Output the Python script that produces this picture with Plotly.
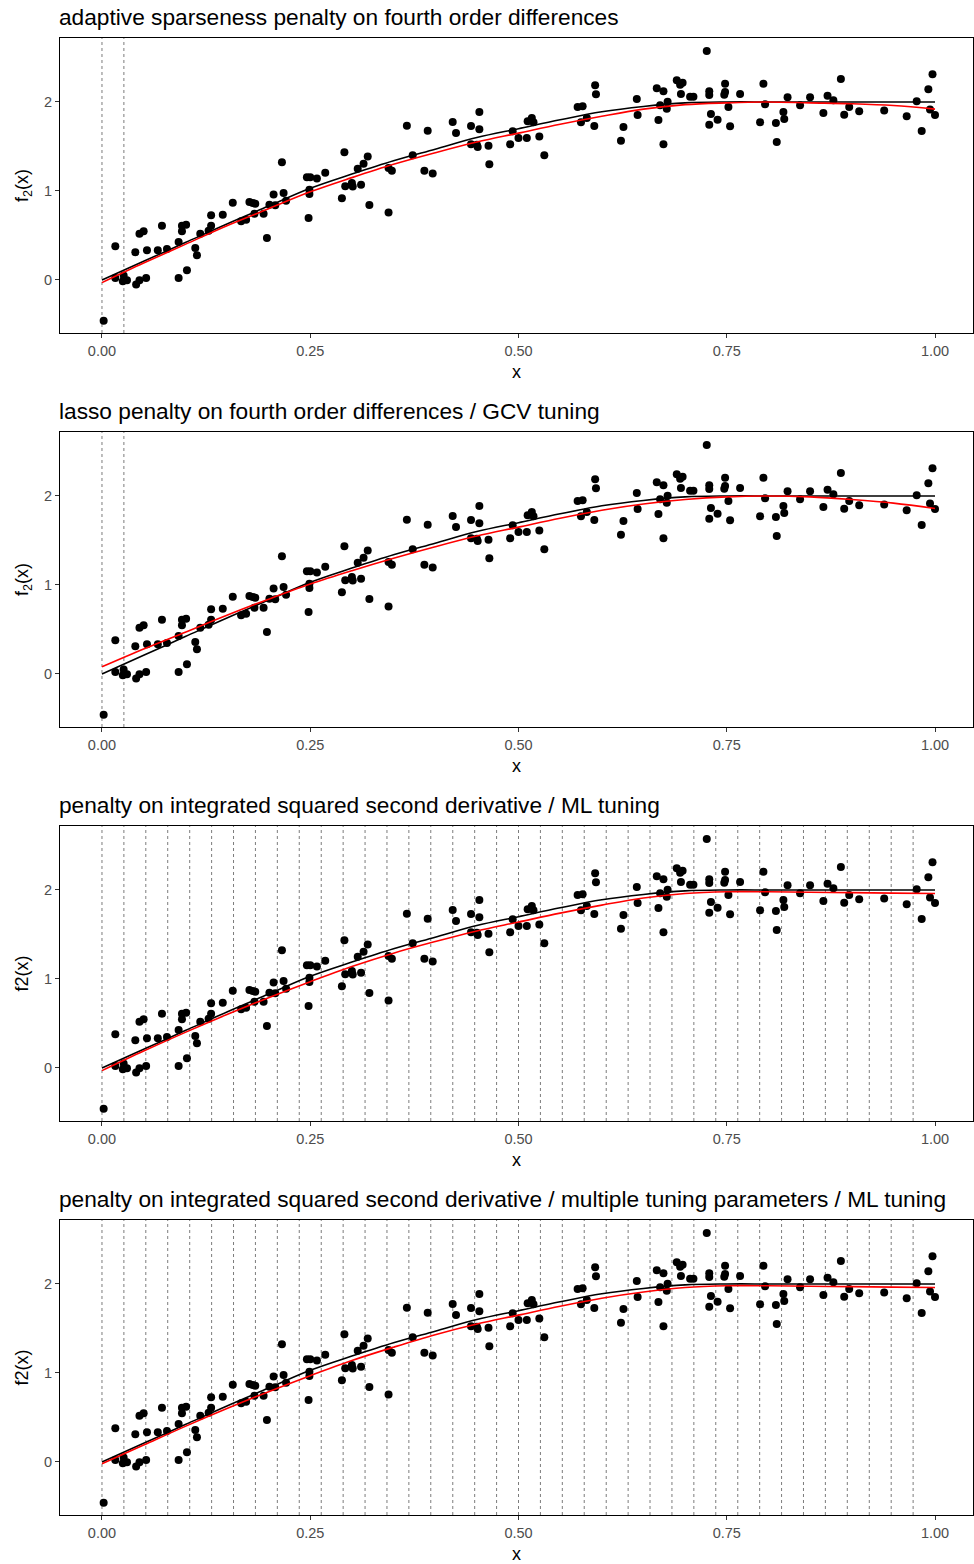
import plotly.graph_objects as go

# ---------------- data ----------------
x_obs = [0.002, 0.016, 0.016, 0.026, 0.025, 0.030, 0.041, 0.045, 0.053, 0.040, 0.045, 0.050, 0.054, 0.067,
         0.072, 0.078, 0.092, 0.092, 0.096, 0.096, 0.101, 0.102, 0.112, 0.114, 0.118, 0.128, 0.131, 0.131,
         0.145, 0.157, 0.167, 0.173, 0.177, 0.181, 0.184, 0.183, 0.194, 0.198, 0.201, 0.208, 0.206, 0.216,
         0.218, 0.221,
         0.248, 0.246, 0.250, 0.258, 0.249, 0.249, 0.268, 0.288, 0.291, 0.292, 0.300, 0.301, 0.311, 0.307,
         0.314, 0.319, 0.321, 0.344, 0.344, 0.348, 0.366, 0.373, 0.387, 0.397, 0.391, 0.421, 0.425, 0.443,
         0.453, 0.453, 0.443, 0.450, 0.451, 0.464, 0.465, 0.490,
         0.493, 0.500, 0.510, 0.511, 0.516, 0.518, 0.525, 0.531, 0.571, 0.577, 0.575, 0.582, 0.591, 0.592,
         0.593, 0.623, 0.626, 0.642, 0.643, 0.666, 0.674, 0.670, 0.668, 0.674, 0.679, 0.678, 0.690, 0.694,
         0.697, 0.695, 0.706, 0.710, 0.726, 0.729, 0.729, 0.731, 0.729, 0.739, 0.748, 0.748, 0.747, 0.752,
         0.754,
         0.766, 0.790, 0.794, 0.796, 0.809, 0.810, 0.818, 0.819, 0.823, 0.838, 0.850, 0.866, 0.871, 0.878,
         0.887, 0.891, 0.897, 0.909, 0.939, 0.966, 0.978, 0.984, 0.992, 0.997, 0.994, 1.000]
y_obs = [-0.457, 0.378, 0.022, 0.049, -0.015, -0.004, -0.052, -0.004, 0.022, 0.311, 0.520, 0.547, 0.333, 0.333,
         0.610, 0.348, 0.022, 0.427, 0.610, 0.547, 0.621, 0.109, 0.360, 0.277, 0.520, 0.554, 0.610, 0.727,
         0.734, 0.869, 0.659, 0.678, 0.876, 0.865, 0.857, 0.745, 0.745, 0.472, 0.846, 0.839, 0.959, 1.322,
         0.978, 0.891,
         0.697, 1.154, 1.154, 1.139, 1.015, 0.966, 1.206, 0.918, 1.434, 1.052, 1.090, 1.049, 1.071, 1.251,
         1.307, 1.386, 0.843, 0.757, 1.258, 1.228, 1.734, 1.401, 1.228, 1.195, 1.678, 1.775, 1.652, 1.730,
         1.888, 1.693, 1.524, 1.520, 1.494, 1.509, 1.300, 1.524,
         1.670, 1.596, 1.596, 1.783, 1.820, 1.772, 1.611, 1.401, 1.944, 1.951, 1.772, 1.820, 1.730, 2.187,
         2.086, 1.565, 1.719, 2.034, 1.854, 2.153, 2.121, 1.963, 1.798, 1.524, 2.004, 1.925, 2.244, 2.195,
         2.217, 2.090, 2.060, 2.060, 2.573, 2.121, 2.079, 1.865, 1.745, 1.801, 2.206, 2.112, 2.082, 1.944,
         1.727,
         2.090, 1.772, 2.206, 1.974, 1.764, 1.551, 1.888, 1.809, 2.052, 1.963, 2.052, 1.876, 2.071, 2.019,
         2.258, 1.857, 1.944, 1.895, 1.903, 1.839, 2.008, 1.674, 2.142, 2.311, 1.915, 1.854]

x_grid = [0.00, 0.05, 0.10, 0.15, 0.20, 0.25, 0.30, 0.35, 0.40, 0.45, 0.50,
          0.55, 0.60, 0.65, 0.70, 0.75, 0.80, 0.85, 0.90, 0.95, 1.00]
f_true = [0.00, 0.21, 0.42, 0.63, 0.83, 1.03, 1.19, 1.34, 1.47, 1.60, 1.70,
          1.80, 1.89, 1.95, 1.99, 2.00, 2.00, 2.00, 2.00, 2.00, 2.00]
fit_adaptive = [-0.03, 0.19, 0.40, 0.61, 0.80, 0.99, 1.15, 1.30, 1.43, 1.55, 1.65,
                1.75, 1.84, 1.92, 1.97, 1.99, 2.00, 1.99, 1.98, 1.96, 1.92]
fit_lasso = [0.08, 0.28, 0.47, 0.66, 0.84, 1.01, 1.16, 1.30, 1.43, 1.55, 1.65,
             1.75, 1.84, 1.91, 1.96, 1.99, 2.00, 1.99, 1.96, 1.92, 1.86]
fit_ml = [-0.03, 0.19, 0.40, 0.60, 0.79, 0.97, 1.14, 1.29, 1.42, 1.54, 1.64,
          1.74, 1.83, 1.91, 1.96, 1.98, 1.98, 1.975, 1.97, 1.965, 1.96]
fit_multi = [-0.02, 0.19, 0.40, 0.60, 0.79, 0.97, 1.14, 1.29, 1.43, 1.55, 1.65,
             1.75, 1.84, 1.91, 1.96, 1.98, 1.98, 1.975, 1.97, 1.965, 1.96]

knots_sparse = [0.0000, 0.0263]
knots_full = [0.0000, 0.0263, 0.0526, 0.0789, 0.1053, 0.1316, 0.1579, 0.1842, 0.2105, 0.2368,
              0.2632, 0.2895, 0.3158, 0.3421, 0.3684, 0.3947, 0.4211, 0.4474, 0.4737, 0.5000,
              0.5263, 0.5526, 0.5789, 0.6053, 0.6316, 0.6579, 0.6842, 0.7105, 0.7368, 0.7632,
              0.7895, 0.8158, 0.8421, 0.8684, 0.8947, 0.9211, 0.9474, 0.9737]

titles = ["adaptive sparseness penalty on fourth order differences",
          "lasso penalty on fourth order differences / GCV tuning",
          "penalty on integrated squared second derivative / ML tuning",
          "penalty on integrated squared second derivative / multiple tuning parameters / ML tuning"]
ytitles = ["f<sub>2</sub>(x)", "f<sub>2</sub>(x)", "f2(x)", "f2(x)"]
fits = [fit_adaptive, fit_lasso, fit_ml, fit_multi]
knot_sets = [knots_sparse, knots_sparse, knots_full, knots_full]

x_ticks = [0, 0.25, 0.5, 0.75, 1.0]
x_ticklabels = ["0.00", "0.25", "0.50", "0.75", "1.00"]
y_ticks = [0, 1, 2]

# ---------------- figure ----------------
W, H = 974, 1564
fig = go.Figure()
layout = dict(width=W, height=H, margin=dict(l=60, r=1, t=0, b=0),
              plot_bgcolor="white", paper_bgcolor="white", showlegend=False,
              font=dict(family="Liberation Sans, Arial, sans-serif", color="black"))

annotations = []
shapes = []
for i in range(4):
    top = 38 + 394 * i
    bot = 333 + 394 * i
    dom = [1 - bot / H, 1 - top / H]
    sfx = "" if i == 0 else str(i + 1)
    xa, ya = "x" + sfx, "y" + sfx

    for k in knot_sets[i]:
        shapes.append(dict(type="line", xref=xa, yref=ya + " domain", x0=k, x1=k, y0=0, y1=1,
                           line=dict(color="#444444", width=0.7, dash="dot"), layer="below"))

    fig.add_trace(go.Scatter(x=x_obs, y=y_obs, mode="markers", xaxis=xa, yaxis=ya,
                             marker=dict(color="black", size=8)))
    fig.add_trace(go.Scatter(x=x_grid, y=f_true, mode="lines", xaxis=xa, yaxis=ya,
                             line=dict(color="black", width=1.6, shape="spline")))
    fig.add_trace(go.Scatter(x=x_grid, y=fits[i], mode="lines", xaxis=xa, yaxis=ya,
                             line=dict(color="red", width=1.6, shape="spline")))

    axis_common = dict(showgrid=False, zeroline=False, showline=True, mirror=True,
                       linecolor="black", linewidth=1.2, ticks="outside", ticklen=4,
                       tickcolor="#333333", tickwidth=1,
                       tickfont=dict(size=14.5, color="#4D4D4D"), automargin=False)
    layout["xaxis" + sfx] = dict(axis_common, domain=[0, 1], range=[-0.0504, 1.0456],
                                 tickvals=x_ticks, ticktext=x_ticklabels,
                                 anchor=ya,
                                 title=dict(text="x", font=dict(size=18), standoff=7))
    layout["yaxis" + sfx] = dict(axis_common, domain=dom, range=[-0.596, 2.719],
                                 tickvals=y_ticks, anchor=xa,
                                 title=dict(text=ytitles[i], font=dict(size=18), standoff=10))
    annotations.append(dict(text=titles[i], xref="paper", yref="paper", x=0, xanchor="left",
                            xshift=-3,
                            y=1 - (17 + 394 * i) / H, yanchor="middle", showarrow=False,
                            font=dict(size=22.7, color="black")))

layout["annotations"] = annotations
layout["shapes"] = shapes
fig.update_layout(**layout)
fig.write_html("out.html", config={"displayModeBar": False},
               post_script="document.body.style.margin='0px';document.body.style.overflow='hidden';")
